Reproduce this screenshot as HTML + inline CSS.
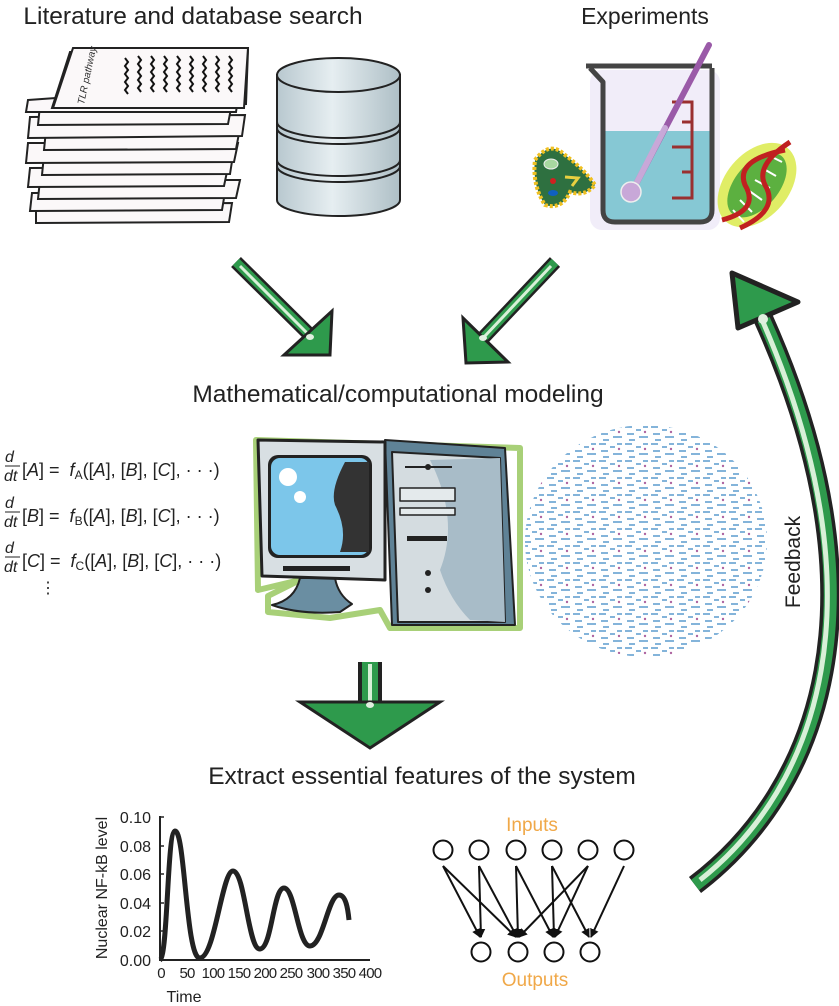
<!DOCTYPE html>
<html><head><meta charset="utf-8"><style>
html,body{margin:0;padding:0;background:#fff;}
svg{display:block;font-family:"Liberation Sans",sans-serif;}
</style></head><body>
<svg width="839" height="1006" viewBox="0 0 839 1006" xmlns="http://www.w3.org/2000/svg">
<defs>
<linearGradient id="cyl" x1="0" x2="1"><stop offset="0" stop-color="#b8c8cf"/><stop offset="0.45" stop-color="#e6eef1"/><stop offset="1" stop-color="#aebfc6"/></linearGradient>
<pattern id="net" width="26" height="17" patternUnits="userSpaceOnUse">
<g stroke="#4a90c8" stroke-width="1.6">
<line x1="1" y1="2" x2="8" y2="2"/><line x1="12" y1="5" x2="17" y2="5"/><line x1="3" y1="9" x2="10" y2="9"/><line x1="15" y1="12" x2="24" y2="12"/><line x1="19" y1="2" x2="24" y2="2"/><line x1="5" y1="15" x2="11" y2="15"/>
</g><circle cx="21" cy="7" r="1.2" fill="#a04a90"/>
</pattern>
<marker id="ah" markerWidth="9" markerHeight="9" refX="8" refY="4.5" orient="auto" markerUnits="userSpaceOnUse"><path d="M0,0 L9,4.5 L0,9 Z" fill="#111"/></marker>
</defs>

<!-- titles -->
<text x="193" y="24" font-size="24.5" text-anchor="middle" fill="#222">Literature and database search</text>
<text x="645" y="24" font-size="23" text-anchor="middle" fill="#222">Experiments</text>
<text x="398" y="402" font-size="24.5" text-anchor="middle" fill="#222">Mathematical/computational modeling</text>
<text x="422" y="784" font-size="24.5" text-anchor="middle" fill="#222">Extract essential features of the system</text>

<!-- paper stack -->
<g fill="#fbf8f9" stroke="#222" stroke-width="2">
<polygon points="36,205 232,203 229,222 36,223"/>
<polygon points="32,193 225,192 222,210 30,211"/>
<polygon points="40,180 240,180 236,198 38,199"/>
<polygon points="30,168 228,167 224,186 28,187"/>
<polygon points="44,155 233,155 230,174 42,175"/>
<polygon points="28,143 238,143 234,162 26,163"/>
<polygon points="46,130 240,128 236,149 44,150"/>
<polygon points="30,117 245,115 242,136 28,138"/>
<polygon points="40,105 232,103 228,124 38,125"/>
<polygon points="28,100 240,85 236,112 26,112"/>
<polygon points="70,52 248,50 246,104 52,108"/>
<polygon points="73,48 248,48 244,108 53,108"/>
</g>
<g stroke="#111" stroke-width="2" fill="none">
<path d="M125,58 l3,4 -3,4 3,4 -3,4 3,4 -3,4 3,4 -3,4 3,4"/>
<path d="M138,56 l3,4 -3,4 3,4 -3,4 3,4 -3,4 3,4 -3,4 3,4"/>
<path d="M151,56 l3,4 -3,4 3,4 -3,4 3,4 -3,4 3,4 -3,4 3,4"/>
<path d="M164,56 l3,4 -3,4 3,4 -3,4 3,4 -3,4 3,4 -3,4 3,4"/>
<path d="M177,56 l3,4 -3,4 3,4 -3,4 3,4 -3,4 3,4 -3,4 3,4"/>
<path d="M190,56 l3,4 -3,4 3,4 -3,4 3,4 -3,4 3,4 -3,4 3,4"/>
<path d="M203,56 l3,4 -3,4 3,4 -3,4 3,4 -3,4 3,4 -3,4 3,4"/>
<path d="M216,56 l3,4 -3,4 3,4 -3,4 3,4 -3,4 3,4 -3,4 3,4"/>
<path d="M229,56 l3,4 -3,4 3,4 -3,4 3,4 -3,4 3,4 -3,4 3,4"/>
</g>
<text transform="translate(84,105) rotate(-78)" font-size="10" font-style="italic" fill="#333">TLR pathway</text>

<!-- database -->
<g stroke="#222" stroke-width="2">
<path d="M277,75 L277,200 A61.5,16 0 0 0 400,200 L400,75 Z" fill="url(#cyl)"/>
<ellipse cx="338.5" cy="75" rx="61.5" ry="17" fill="url(#cyl)"/>
<path d="M277,122 A61.5,16 0 0 0 400,122" fill="none"/>
<path d="M277,128 A61.5,16 0 0 0 400,128" fill="none"/>
<path d="M277,160 A61.5,16 0 0 0 400,160" fill="none"/>
<path d="M277,166 A61.5,16 0 0 0 400,166" fill="none"/>
</g>

<!-- beaker -->
<rect x="590" y="70" width="130" height="160" rx="12" fill="#e4dcf4" opacity="0.5"/>
<path d="M602,131 L712,131 L712,210 Q712,222 700,222 L615,222 Q603,222 603,210 Z" fill="#86c8d4"/>
<path d="M586,66 L712,66 M590,68 L603,82 L603,210 Q603,222 615,222 L700,222 Q712,222 712,210 L712,68" fill="none" stroke="#444" stroke-width="5" stroke-linejoin="round"/>
<g stroke="#9a3030" stroke-width="3" fill="none">
<path d="M672,102 L692,102 L692,198 L672,198"/>
<line x1="682" y1="122" x2="692" y2="122"/><line x1="672" y1="147" x2="692" y2="147"/><line x1="682" y1="172" x2="692" y2="172"/>
</g>
<line x1="709" y1="45" x2="634" y2="188" stroke="#9a5aa8" stroke-width="6" stroke-linecap="round"/>
<line x1="665" y1="128" x2="634" y2="188" stroke="#c8a8d8" stroke-width="6" stroke-linecap="round"/>
<circle cx="631" cy="192" r="10" fill="#c8a8d8" stroke="#eee" stroke-width="1.5"/>
<!-- microbe -->
<path d="M535,160 Q550,140 565,155 Q585,170 595,185 Q585,197 570,192 Q562,210 545,205 Q532,185 535,160 Z" fill="#2e7040" stroke="#f0c020" stroke-width="4" stroke-dasharray="3,2"/>
<ellipse cx="551" cy="164" rx="7" ry="5" fill="#a8d8a0" stroke="#eee"/>
<circle cx="553" cy="181" r="3" fill="#d02020"/>
<path d="M565,177 L578,178 L572,186" fill="none" stroke="#e8d040" stroke-width="3"/>
<ellipse cx="553" cy="193" rx="5" ry="3" fill="#1060c0"/>
<!-- DNA -->
<ellipse cx="757" cy="185" rx="32" ry="48" transform="rotate(40 757 185)" fill="#d8e840" opacity="0.8"/>
<ellipse cx="757" cy="185" rx="22" ry="38" transform="rotate(40 757 185)" fill="#5cb040"/>
<g stroke="#fff" stroke-width="2"><line x1="740" y1="200" x2="752" y2="212"/><line x1="748" y1="190" x2="762" y2="200"/><line x1="755" y1="180" x2="770" y2="188"/><line x1="762" y1="168" x2="776" y2="176"/><line x1="770" y1="156" x2="782" y2="162"/><line x1="733" y1="210" x2="744" y2="222"/></g>
<path d="M722,220 Q760,210 745,185 Q735,160 785,150" fill="none" stroke="#c02020" stroke-width="5"/>
<path d="M740,228 Q780,210 765,185 Q755,165 790,142" fill="none" stroke="#c02020" stroke-width="5"/>

<!-- green arrows -->
<g>
<line x1="236" y1="262" x2="312" y2="337" stroke="#222" stroke-width="14"/>
<line x1="236" y1="262" x2="312" y2="337" stroke="#2e9a4c" stroke-width="9"/>
<line x1="240" y1="266" x2="310" y2="336" stroke="#d8f0d8" stroke-width="3"/>
<polygon points="332,311 330,355 284,355" fill="#2e9a4c" stroke="#222" stroke-width="3"/>
<ellipse cx="310" cy="337" rx="4" ry="3" fill="#e0f0e0"/>
</g>
<g>
<line x1="555" y1="262" x2="483" y2="338" stroke="#222" stroke-width="14"/>
<line x1="555" y1="262" x2="483" y2="338" stroke="#2e9a4c" stroke-width="9"/>
<line x1="551" y1="266" x2="484" y2="337" stroke="#d8f0d8" stroke-width="3"/>
<polygon points="463,318 466,363 508,362" fill="#2e9a4c" stroke="#222" stroke-width="3"/>
<ellipse cx="483" cy="338" rx="4" ry="3" fill="#e0f0e0"/>
</g>
<g>
<rect x="358" y="662" width="24" height="42" fill="#222"/>
<rect x="362" y="662" width="16" height="42" fill="#2e9a4c"/>
<rect x="368" y="664" width="4" height="40" fill="#d8f0d8"/>
<polygon points="300,702 440,702 370,748" fill="#2e9a4c" stroke="#222" stroke-width="3"/>
<ellipse cx="370" cy="705" rx="4" ry="3" fill="#e0f0e0"/>
</g>
<!-- feedback -->
<path d="M695,885 C820,790 890,600 763,318" fill="none" stroke="#222" stroke-width="20"/>
<path d="M695,885 C820,790 890,600 763,318" fill="none" stroke="#2e9a4c" stroke-width="13"/>
<path d="M700,880 C818,787 884,600 763,322" fill="none" stroke="#d8f0d8" stroke-width="5"/>
<polygon points="732,273 798,302 738,328" fill="#2e9a4c" stroke="#222" stroke-width="5" stroke-linejoin="round"/>
<circle cx="763" cy="319" r="5" fill="#e0f0e0"/>
<text transform="translate(800,562) rotate(-90)" font-size="21" text-anchor="middle" fill="#222">Feedback</text>

<!-- equations -->
<g font-size="18" fill="#222" font-style="italic">
<g transform="translate(5,462)">
<text x="0" y="0" font-size="16">d</text><line x1="0" y1="4" x2="15" y2="4" stroke="#222"/><text x="-1" y="19" font-size="16">dt</text>
<text x="17" y="14" font-style="normal">[<tspan font-style="italic">A</tspan>] = &#160;<tspan font-style="italic">f</tspan><tspan font-size="12" dy="3">A</tspan><tspan dy="-3">([<tspan font-style="italic">A</tspan>], [<tspan font-style="italic">B</tspan>], [<tspan font-style="italic">C</tspan>], · · ·)</tspan></text>
</g>
<g transform="translate(5,508)">
<text x="0" y="0" font-size="16">d</text><line x1="0" y1="4" x2="15" y2="4" stroke="#222"/><text x="-1" y="19" font-size="16">dt</text>
<text x="17" y="14" font-style="normal">[<tspan font-style="italic">B</tspan>] = &#160;<tspan font-style="italic">f</tspan><tspan font-size="12" dy="3">B</tspan><tspan dy="-3">([<tspan font-style="italic">A</tspan>], [<tspan font-style="italic">B</tspan>], [<tspan font-style="italic">C</tspan>], · · ·)</tspan></text>
</g>
<g transform="translate(5,553)">
<text x="0" y="0" font-size="16">d</text><line x1="0" y1="4" x2="15" y2="4" stroke="#222"/><text x="-1" y="19" font-size="16">dt</text>
<text x="17" y="14" font-style="normal">[<tspan font-style="italic">C</tspan>] = &#160;<tspan font-style="italic">f</tspan><tspan font-size="12" dy="3">C</tspan><tspan dy="-3">([<tspan font-style="italic">A</tspan>], [<tspan font-style="italic">B</tspan>], [<tspan font-style="italic">C</tspan>], · · ·)</tspan></text>
</g>
<text x="40" y="593" font-style="normal" font-size="16">⋮</text>
</g>

<!-- computer -->
<g stroke-linejoin="round">
<path d="M256,440 L520,448 L520,628 L390,628 L380,610 L330,618 L268,612 L268,596 L300,580 L258,590 Z" fill="none" stroke="#a8d078" stroke-width="6"/>
<polygon points="385,440 505,448 515,625 392,625" fill="#5f8296" stroke="#222" stroke-width="2"/>
<polygon points="392,452 500,458 505,622 398,622" fill="#d4dce0" stroke="#222" stroke-width="2"/>
<path d="M430,460 Q460,520 440,570 Q450,600 470,620 L505,622 L500,458 Z" fill="#a8bcc8"/>
<line x1="405" y1="467" x2="452" y2="467" stroke="#222" stroke-width="2"/><circle cx="428" cy="467" r="3" fill="#222"/>
<rect x="400" y="488" width="55" height="13" fill="#e4eaec" stroke="#222" stroke-width="1.5"/>
<rect x="400" y="508" width="55" height="7" fill="#e4eaec" stroke="#222" stroke-width="1.5"/>
<rect x="407" y="536" width="40" height="5" fill="#222"/>
<circle cx="428" cy="573" r="3" fill="#222"/><circle cx="428" cy="590" r="3" fill="#222"/>
<path d="M300,578 Q295,600 272,605 Q300,615 340,612 L352,604 Q338,595 335,578 Z" fill="#6a8ea2" stroke="#222" stroke-width="2"/>
<polygon points="258,440 385,442 385,580 262,576" fill="#d8dfe3" stroke="#222" stroke-width="3"/>
<rect x="268" y="455" width="104" height="103" rx="10" fill="#222"/>
<rect x="271" y="458" width="98" height="97" rx="9" fill="#7cc6ea"/>
<path d="M369,462 L345,462 Q330,490 335,505 Q348,530 340,552 L369,552 Z" fill="#333"/>
<circle cx="288" cy="477" r="9" fill="#fff"/><circle cx="300" cy="497" r="6" fill="#fff"/>
<rect x="283" y="566" width="67" height="5" fill="#222"/>
</g>

<!-- network cloud -->
<ellipse cx="646" cy="541" rx="121" ry="116" fill="url(#net)" opacity="0.85"/>

<!-- plot -->
<g fill="#222" font-size="16">
<line x1="160" y1="816" x2="160" y2="961" stroke="#222" stroke-width="2"/>
<line x1="159" y1="960" x2="370" y2="960" stroke="#222" stroke-width="2"/>
<g stroke="#222" stroke-width="1.5">
<line x1="160" y1="817" x2="164" y2="817"/><line x1="160" y1="846" x2="164" y2="846"/><line x1="160" y1="874" x2="164" y2="874"/><line x1="160" y1="903" x2="164" y2="903"/><line x1="160" y1="931" x2="164" y2="931"/>
</g>
<g text-anchor="end">
<text x="151" y="823">0.10</text><text x="151" y="852">0.08</text><text x="151" y="880">0.06</text><text x="151" y="909">0.04</text><text x="151" y="937">0.02</text><text x="151" y="966">0.00</text>
</g>
<g text-anchor="middle" font-size="15" letter-spacing="-0.8">
<text x="161" y="978">0</text><text x="187" y="978">50</text><text x="213" y="978">100</text><text x="239" y="978">150</text><text x="265" y="978">200</text><text x="291" y="978">250</text><text x="318" y="978">300</text><text x="344" y="978">350</text><text x="370" y="978">400</text>
</g>
<text x="184" y="1002" text-anchor="middle">Time</text>
<text transform="translate(107,888) rotate(-90)" text-anchor="middle">Nuclear NF-kB level</text>
<path d="M160,960 C168,955 167,832 175,831 C185,830 186,960 200,958 C215,957 222,871 233,871 C245,871 248,950 260,949 C272,948 273,888 284,888 C295,888 298,946 310,946 C323,946 328,895 339,895 C346,895 348,910 349,920" fill="none" stroke="#222" stroke-width="5"/>
</g>

<!-- I/O network -->
<text x="532" y="831" font-size="19" fill="#f0a848" text-anchor="middle">Inputs</text>
<text x="535" y="986" font-size="19" fill="#f0a848" text-anchor="middle">Outputs</text>
<g fill="#fff" stroke="#111" stroke-width="2">
<circle cx="443" cy="850" r="9.5"/><circle cx="479" cy="850" r="9.5"/><circle cx="516" cy="850" r="9.5"/><circle cx="552" cy="850" r="9.5"/><circle cx="588" cy="850" r="9.5"/><circle cx="624" cy="850" r="9.5"/>
<circle cx="481" cy="952" r="9.5"/><circle cx="518" cy="952" r="9.5"/><circle cx="554" cy="952" r="9.5"/><circle cx="590" cy="952" r="9.5"/>
</g>
<g stroke="#111" stroke-width="2" marker-end="url(#ah)">
<line x1="443" y1="866" x2="480" y2="937"/><line x1="443" y1="866" x2="516" y2="937"/>
<line x1="479" y1="866" x2="481" y2="937"/><line x1="479" y1="866" x2="517" y2="937"/>
<line x1="516" y1="866" x2="518" y2="937"/><line x1="516" y1="866" x2="553" y2="937"/>
<line x1="552" y1="866" x2="554" y2="937"/><line x1="552" y1="866" x2="589" y2="937"/>
<line x1="588" y1="866" x2="519" y2="937"/><line x1="588" y1="866" x2="555" y2="937"/>
<line x1="624" y1="866" x2="591" y2="937"/>
</g>
</svg>
</body></html>
